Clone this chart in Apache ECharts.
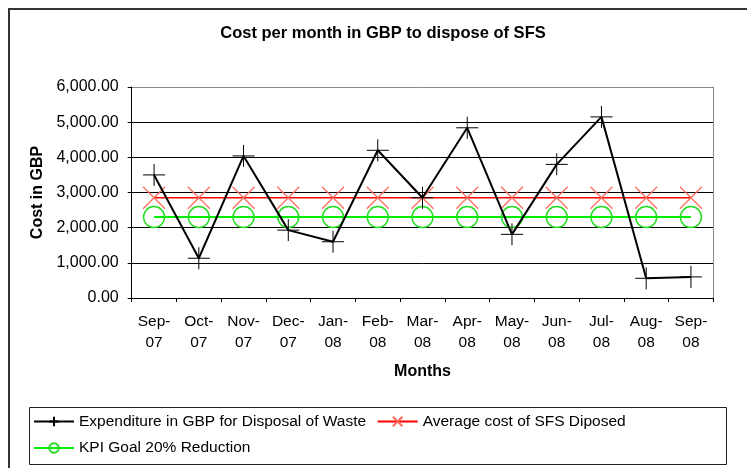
<!DOCTYPE html>
<html>
<head>
<meta charset="utf-8">
<script src="https://cdn.jsdelivr.net/npm/echarts@6/dist/echarts.min.js"></script>
<style>
  html, body { margin: 0; padding: 0; background: #fff; }
  #chart { width: 747px; height: 468px; }
</style>
</head>
<body>
<div id="chart"></div>
<script>
// months on the x axis
var months = ['Sep-07', 'Oct-07', 'Nov-07', 'Dec-07', 'Jan-08', 'Feb-08', 'Mar-08',
  'Apr-08', 'May-08', 'Jun-08', 'Jul-08', 'Aug-08', 'Sep-08']
// cost values
var expenditure = [3500, 1130, 4040, 1930, 1600, 4200, 2850, 4840, 1810, 3800, 5150, 560, 600]
var averageCost = [2850, 2850, 2850, 2850, 2850, 2850, 2850, 2850, 2850, 2850, 2850, 2850, 2850]
var kpiGoal = [2300, 2300, 2300, 2300, 2300, 2300, 2300, 2300, 2300, 2300, 2300, 2300, 2300]
var seriesNames = ['Expenditure in GBP for Disposal of Waste', 'Average cost of SFS Diposed', 'KPI Goal 20% Reduction']

var font = '"Liberation Sans", Arial, sans-serif'
var plusPath = 'path://M0,10L20,10M10,0L10,20'
var crossPath = 'path://M0,0L20,20M20,0L0,20'

var chart = echarts.init(document.getElementById('chart'))
var option = {
  animation: false,
  backgroundColor: '#fff',
  textStyle: { fontFamily: font, color: '#000' },
  title: {
    text: 'Cost per month in GBP to dispose of SFS',
    left: 378,
    textAlign: 'center',
    top: 20,
    textStyle: { fontFamily: font, fontSize: 16.5, fontWeight: 'bold', color: '#000' }
  },
  graphic: [
    {
      type: 'rect',
      shape: { x: 9, y: 9, width: 760, height: 480 },
      style: { fill: 'none', stroke: '#333', lineWidth: 2 },
      silent: true
    },
    {
      type: 'rect',
      shape: { x: 29.5, y: 407.5, width: 697, height: 57 },
      style: { fill: 'none', stroke: '#222', lineWidth: 1 },
      silent: true
    }
  ],
  legend: {
    data: seriesNames,
    left: 33,
    top: 413.5,
    width: 690,
    padding: 0,
    itemWidth: 40,
    itemHeight: 12,
    itemGap: 10.5,
    textStyle: { fontFamily: font, fontSize: 15.5, lineHeight: 16, color: '#000' }
  },
  grid: {
    left: 131.7,
    right: 33.7,
    top: 87,
    bottom: 170
  },
  xAxis: {
    type: 'category',
    data: months,
    boundaryGap: true,
    name: 'Months',
    nameLocation: 'middle',
    nameGap: 66,
    nameTextStyle: { fontFamily: font, fontSize: 16, fontWeight: 'bold', color: '#000' },
    axisLine: { lineStyle: { color: '#000', width: 1 } },
    axisTick: { show: true, length: 4, alignWithLabel: false, lineStyle: { color: '#000' } },
    axisLabel: {
      interval: 0,
      margin: 13,
      fontFamily: font,
      fontSize: 15.5,
      lineHeight: 21,
      color: '#000',
      formatter: function (v) {
        var p = v.split('-')
        return p[0] + '-\n' + p[1]
      }
    },
    splitLine: { show: false }
  },
  yAxis: [
    {
      type: 'value',
      min: 0,
      max: 6000,
      interval: 1000,
      name: 'Cost in GBP',
      nameLocation: 'middle',
      nameRotate: 90,
      nameGap: 86,
      nameTextStyle: { fontFamily: font, fontSize: 16, fontWeight: 'bold', color: '#000' },
      axisLine: { show: true, lineStyle: { color: '#000', width: 1 } },
      axisTick: { show: true, length: 4, lineStyle: { color: '#000' } },
      axisLabel: {
        margin: 13,
        fontFamily: font,
        fontSize: 16,
        color: '#000',
        formatter: function (v) {
          return v.toLocaleString('en-US', { minimumFractionDigits: 2, maximumFractionDigits: 2 })
        }
      },
      splitLine: {
        show: true,
        lineStyle: { color: ['#000', '#000', '#000', '#000', '#000', '#000', '#888'], width: 1 }
      }
    },
    {
      type: 'value',
      position: 'right',
      min: 0,
      max: 6000,
      interval: 1000,
      axisLine: { show: true, lineStyle: { color: '#888', width: 1 } },
      axisTick: { show: false },
      axisLabel: { show: false },
      splitLine: { show: false }
    }
  ],
  series: [
    {
      name: seriesNames[0],
      type: 'line',
      data: expenditure,
      symbol: plusPath,
      symbolSize: 22,
      lineStyle: { color: '#000', width: 2 },
      itemStyle: { color: '#000', borderColor: '#000', borderWidth: 1 },
      z: 4
    },
    {
      name: seriesNames[1],
      type: 'line',
      data: averageCost,
      symbol: crossPath,
      symbolSize: 22,
      lineStyle: { color: '#ff0000', width: 1.5 },
      itemStyle: { color: '#ff0000', borderColor: '#ff6a5a', borderWidth: 1.2 },
      z: 3
    },
    {
      name: seriesNames[2],
      type: 'line',
      data: kpiGoal,
      symbol: 'circle',
      symbolSize: 21,
      showAllSymbol: true,
      lineStyle: { color: '#00ee00', width: 2 },
      itemStyle: { color: 'rgba(0,0,0,0)', borderColor: '#22dd22', borderWidth: 1.5 },
      z: 3
    }
  ]
}
chart.setOption(option)
window.addEventListener('resize', function () { chart.resize() })
</script>
</body>
</html>
